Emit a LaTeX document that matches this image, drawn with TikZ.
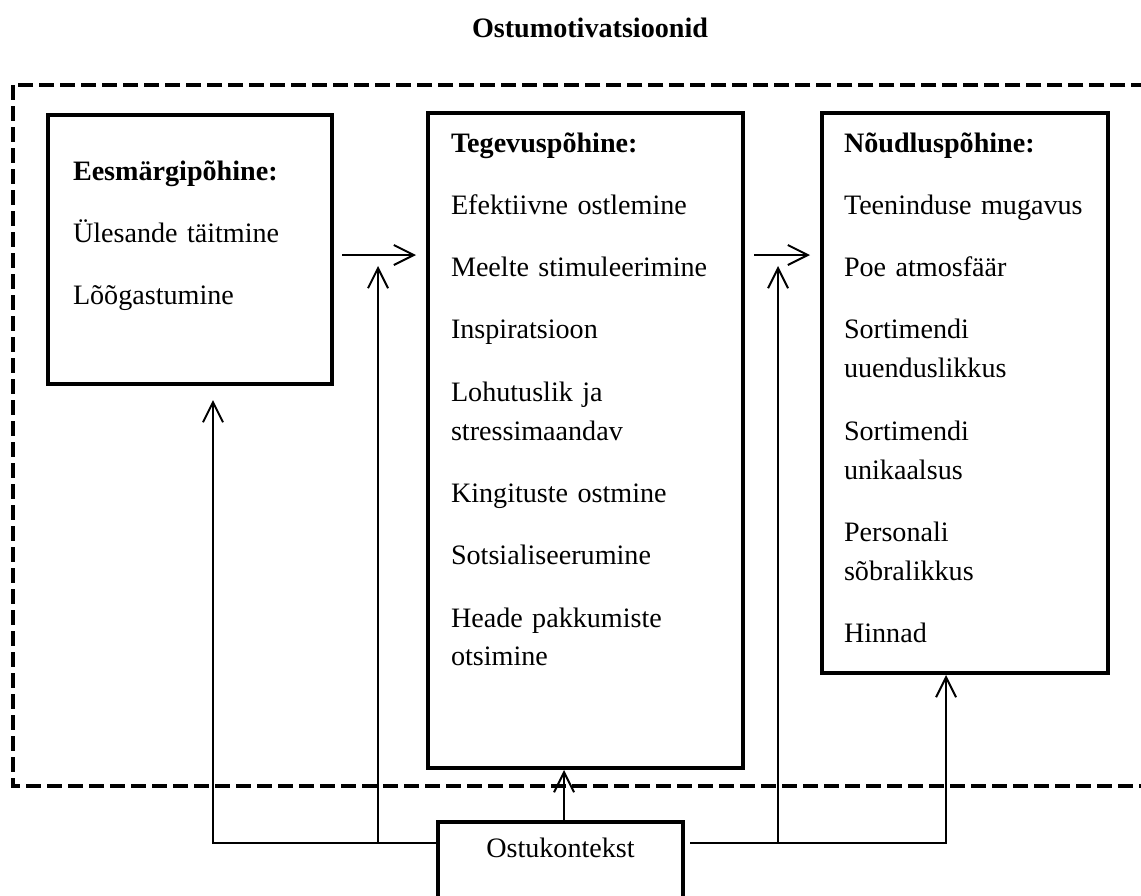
\documentclass[tikz,border=0pt]{standalone}
\usepackage{fontspec}
\setmainfont{Liberation Serif}
\usepackage{tikz}
\usetikzlibrary{arrows.meta,fit}

\newcommand{\itemgap}{\\[16.6pt]}

\begin{document}
\begin{tikzpicture}
	[x=0.025cm,y=-0.025cm,->,>={Straight Barb[length=0.5cm,width=0.5cm]},line width=0.05cm,
		box/.style={draw,line width=0.1cm,inner sep=0pt},
		frame/.style={draw,-,line width=0.1cm,dash pattern=on 0.375cm off 0.15cm},
		list/.style={anchor=base west,align=left,inner sep=0pt,text width=7cm},
		every node/.style={font=\fontsize{20}{27.7}\selectfont}]

	\useasboundingbox (0,0) rectangle (1141,895);
	\clip (0,0) rectangle (1141,895);

	\node[anchor=base,font=\fontsize{20}{27.7}\selectfont\bfseries] (title) at (590,37) {Ostumotivatsioonid};
	\draw[frame] (13,85) rectangle (1160,786);

	\node[box,fit={(48,115) (332,384)}] (eesm) {};
	\node[box,fit={(428,113) (743,768)}] (tege) {};
	\node[box,fit={(822,113) (1108,673)}] (noud) {};
	\node[box,fit={(438,822) (683,940)}] (kont) {};

	\node[list] (eesmtxt) at (72,180) {\textbf{Eesmärgipõhine:}\itemgap Ülesande täitmine\itemgap Lõõgastumine};
	\node[list] (tegetxt) at (450,152) {\textbf{Tegevuspõhine:}\itemgap Efektiivne ostlemine\itemgap Meelte stimuleerimine\itemgap Inspiratsioon\itemgap Lohutuslik ja\\ stressimaandav\itemgap Kingituste ostmine\itemgap Sotsialiseerumine\itemgap Heade pakkumiste\\ otsimine};
	\node[list] (noudtxt) at (843,152) {\textbf{Nõudluspõhine:}\itemgap Teeninduse mugavus\itemgap Poe atmosfäär\itemgap Sortimendi\\ uuenduslikkus\itemgap Sortimendi\\ unikaalsus\itemgap Personali\\ sõbralikkus\itemgap Hinnad};
	\node[anchor=base] (konttxt) at (560.5,857) {Ostukontekst};

	\draw[shorten <=0.2cm,shorten >=0.25cm] (eesm.east |- 0,255) -- (tege.west |- 0,255);
	\draw[shorten <=0.225cm,shorten >=0.25cm] (tege.east |- 0,255) -- (noud.west |- 0,255);

	\coordinate (kl) at (kont.west |- 0,843);
	\coordinate (kr) at (kont.east |- 0,843);
	\draw[shorten >=0.35cm] (kl) -| (eesm.south -| 213,0);
	\draw[shorten >=0.275cm] (kl -| 378,0) -- (378,255);
	\draw (kont.north -| 564,0) -- (tege.south -| 564,0);
	\draw[shorten <=0.125cm] (kr) -| (noud.south -| 946,0);
	\draw[shorten >=0.275cm] (kr -| 778,0) -- (778,255);
\end{tikzpicture}
\end{document}
